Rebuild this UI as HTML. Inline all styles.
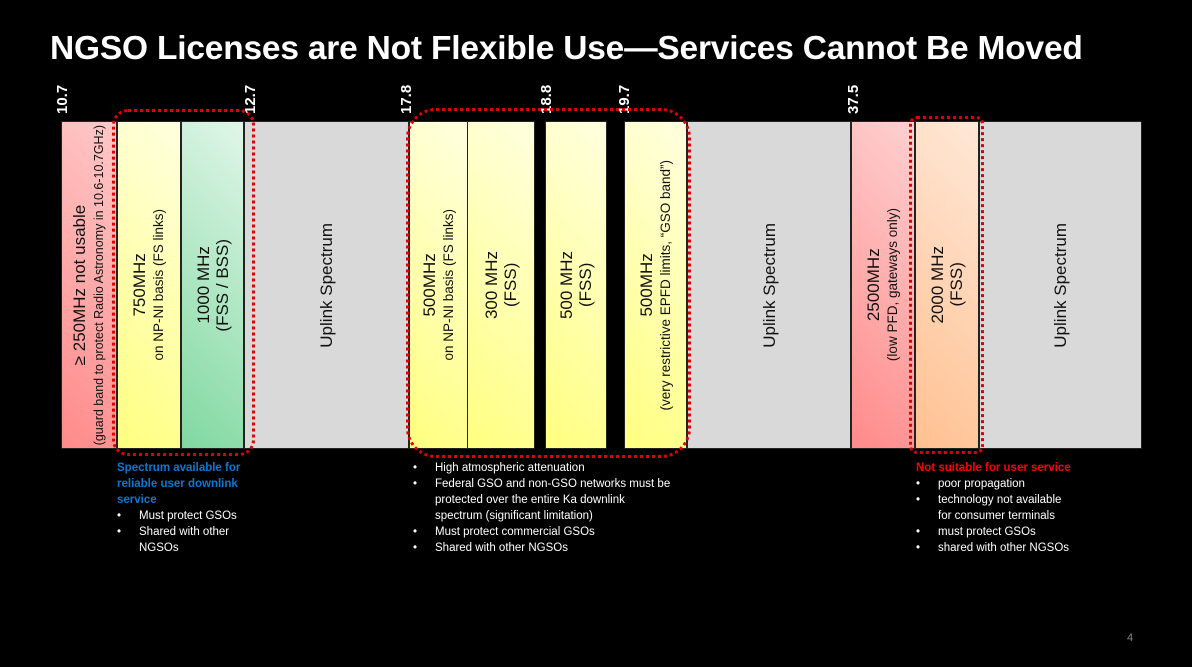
<!DOCTYPE html>
<html><head><meta charset="utf-8"><style>
*{margin:0;padding:0;box-sizing:border-box}
body{width:1192px;height:667px;background:#000;position:relative;overflow:hidden;font-family:"Liberation Sans",sans-serif}
.t{position:absolute;left:50px;top:30px;color:#fff;font-weight:bold;font-size:33.5px;letter-spacing:-0.2px;white-space:nowrap}
.b{position:absolute;top:121px;height:328px;display:flex;align-items:center;justify-content:center;border:1px solid #222}
.v{writing-mode:vertical-rl;transform:rotate(180deg);text-align:center;color:#111;font-size:17px;line-height:19px;white-space:nowrap}
.v small{font-size:12.5px;line-height:16px}
.tk{position:absolute;top:84px;color:#fff;font-weight:bold;font-size:15px;writing-mode:vertical-rl;transform:rotate(180deg);height:30px}
.d{position:absolute;border:3px dotted #e00000}
.n{position:absolute;color:#fff;font-size:11.5px;line-height:16px}
.n div{position:relative;padding-left:22px}
.n div.bu:before{content:"•";position:absolute;left:0}
</style></head><body>
<div class="t">NGSO Licenses are Not Flexible Use—Services Cannot Be Moved</div>

<div class="tk" style="left:54px">10.7</div>
<div class="tk" style="left:242px">12.7</div>
<div class="tk" style="left:398px">17.8</div>
<div class="tk" style="left:538px">18.8</div>
<div class="tk" style="left:616px">19.7</div>
<div class="tk" style="left:845px">37.5</div>

<div class="b" style="left:61px;width:56px;background:linear-gradient(45deg,#ff8a8a,#ffc8c8)"><div class="v">≥ 250MHz not usable<br><small>(guard band to protect Radio Astronomy in 10.6-10.7GHz)</small></div></div>
<div class="b" style="left:117px;width:64px;background:linear-gradient(45deg,#ffff80,#ffffe0)"><div class="v">750MHz<br><small style="font-size:13.5px">on NP-NI basis (FS links)</small></div></div>
<div class="b" style="left:181px;width:63px;background:linear-gradient(45deg,#80d8a0,#e0f6e8)"><div class="v">1000 MHz<br>(FSS / BSS)</div></div>
<div class="b" style="left:244px;width:165px;background:#d9d9d9"><div class="v">Uplink Spectrum</div></div>
<div class="b" style="left:409px;width:59px;background:linear-gradient(45deg,#ffff80,#ffffe0)"><div class="v">500MHz<br><small style="font-size:13.5px">on NP-NI basis (FS links)</small></div></div>
<div class="b" style="left:467px;width:68px;background:linear-gradient(45deg,#ffff80,#ffffe0)"><div class="v">300 MHz<br>(FSS)</div></div>
<div class="b" style="left:545px;width:62px;background:linear-gradient(45deg,#ffff80,#ffffe0)"><div class="v">500 MHz<br>(FSS)</div></div>
<div class="b" style="left:624px;width:63px;background:linear-gradient(45deg,#ffff80,#ffffe0)"><div class="v">500MHz<br><small style="font-size:13.5px">(very restrictive EPFD limits, “GSO band”)</small></div></div>
<div class="b" style="left:687px;width:164px;background:#d9d9d9"><div class="v">Uplink Spectrum</div></div>
<div class="b" style="left:851px;width:64px;background:linear-gradient(45deg,#ff8a8a,#ffd0d0)"><div class="v">2500MHz<br><small style="font-size:13.5px">(low PFD, gateways only)</small></div></div>
<div class="b" style="left:915px;width:64px;background:linear-gradient(45deg,#ffc090,#ffe8d8)"><div class="v">2000 MHz<br>(FSS)</div></div>
<div class="b" style="left:979px;width:163px;background:#d9d9d9"><div class="v">Uplink Spectrum</div></div>

<div class="d" style="left:112px;top:109px;width:143px;height:347px;border-radius:16px"></div>
<div class="d" style="left:406px;top:108px;width:285px;height:350px;border-radius:30px"></div>
<div class="d" style="left:909px;top:116px;width:75px;height:338px;border-radius:8px"></div>

<div class="n" style="left:117px;top:460px">
<div style="padding:0;color:#0a78d8;font-weight:bold">Spectrum available for<br>reliable user downlink<br>service</div>
<div class="bu">Must protect GSOs</div>
<div class="bu">Shared with other<br>NGSOs</div>
</div>
<div class="n" style="left:413px;top:460px">
<div class="bu">High atmospheric attenuation</div>
<div class="bu">Federal GSO and non-GSO networks must be<br>protected over the entire Ka downlink<br>spectrum (significant limitation)</div>
<div class="bu">Must protect commercial GSOs</div>
<div class="bu">Shared with other NGSOs</div>
</div>
<div class="n" style="left:916px;top:460px">
<div style="padding:0;color:#f00;font-weight:bold">Not suitable for user service</div>
<div class="bu">poor propagation</div>
<div class="bu">technology not available<br>for consumer terminals</div>
<div class="bu">must protect GSOs</div>
<div class="bu">shared with other NGSOs</div>
</div>
<div style="position:absolute;left:1127px;top:632px;color:#888;font-size:11px">4</div>
</body></html>
